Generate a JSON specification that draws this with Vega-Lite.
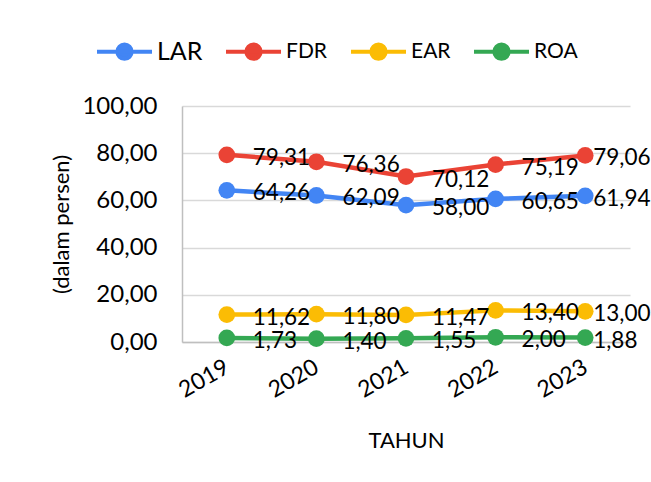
{
  "$schema": "https://vega.github.io/schema/vega-lite/v6.json",
  "width": 448,
  "height": 236,
  "autosize": "none",
  "padding": {"left": 182, "top": 106, "right": 21, "bottom": 140},
  "background": "white",
  "config": {
    "locale": {"number": {"decimal": ",", "thousands": ".", "grouping": [3], "currency": ["Rp", ""]}},
    "font": "Lato",
    "view": {"stroke": null}
  },
  "data": {
    "values": [
      {"year": "2019", "series": "LAR", "value": 64.26},
      {"year": "2020", "series": "LAR", "value": 62.09},
      {"year": "2021", "series": "LAR", "value": 58.00},
      {"year": "2022", "series": "LAR", "value": 60.65},
      {"year": "2023", "series": "LAR", "value": 61.94},
      {"year": "2019", "series": "FDR", "value": 79.31},
      {"year": "2020", "series": "FDR", "value": 76.36},
      {"year": "2021", "series": "FDR", "value": 70.12},
      {"year": "2022", "series": "FDR", "value": 75.19},
      {"year": "2023", "series": "FDR", "value": 79.06},
      {"year": "2019", "series": "EAR", "value": 11.62},
      {"year": "2020", "series": "EAR", "value": 11.80},
      {"year": "2021", "series": "EAR", "value": 11.47},
      {"year": "2022", "series": "EAR", "value": 13.40},
      {"year": "2023", "series": "EAR", "value": 13.00},
      {"year": "2019", "series": "ROA", "value": 1.73},
      {"year": "2020", "series": "ROA", "value": 1.40},
      {"year": "2021", "series": "ROA", "value": 1.55},
      {"year": "2022", "series": "ROA", "value": 2.00},
      {"year": "2023", "series": "ROA", "value": 1.88}
    ]
  },
  "encoding": {
    "x": {
      "field": "year",
      "type": "ordinal",
      "scale": {"type": "point", "padding": 0.5},
      "axis": {
        "title": "TAHUN",
        "labelAngle": -30,
        "labelAlign": "right",
        "labelBaseline": "middle",
        "labelFontSize": 23,
        "labelColor": "black",
        "labelPadding": 23,
        "ticks": false,
        "tickSize": 0,
        "domainColor": "#bfbfbf",
        "domainWidth": 1.5,
        "grid": false,
        "titleFontSize": 22,
        "titleFontWeight": "normal",
        "titleColor": "black",
        "titlePadding": 28
      }
    },
    "y": {
      "field": "value",
      "type": "quantitative",
      "scale": {"domain": [0, 100]},
      "axis": {
        "title": "(dalam persen)",
        "values": [0, 20, 40, 60, 80, 100],
        "format": ".2f",
        "labelFontSize": 24,
        "labelColor": "black",
        "labelPadding": 25,
        "ticks": false,
        "tickSize": 0,
        "domain": true,
        "domainColor": "#bfbfbf",
        "domainWidth": 1.5,
        "gridColor": "#d9d9d9",
        "gridWidth": 1.5,
        "titleFontSize": 22,
        "titleFontWeight": "normal",
        "titleColor": "black",
        "titlePadding": 8
      }
    },
    "color": {
      "field": "series",
      "type": "nominal",
      "scale": {
        "domain": ["LAR", "FDR", "EAR", "ROA"],
        "range": ["#4285F4", "#EA4335", "#FBBC04", "#34A853"]
      },
      "legend": {
        "title": null,
        "orient": "none",
        "direction": "horizontal",
        "legendX": -87,
        "legendY": -84,
        "padding": 0,
        "symbolType": "M-1,0L1,0M-0.26,0A0.26,0.26,0,1,1,0.26,0A0.26,0.26,0,1,1,-0.26,0Z",
        "symbolSize": 3025,
        "symbolStrokeWidth": 4,
        "symbolOpacity": 1,
        "labelFontSize": 21,
        "labelColor": "black",
        "labelOffset": 3,
        "columnPadding": 15,
        "encode": {
          "symbols": {"update": {"fill": {"scale": "color", "field": "value"}, "stroke": {"scale": "color", "field": "value"}}},
          "labels": {"update": {"fontSize": {"signal": "datum.value === 'LAR' ? 25 : 21"}}}
        }
      }
    }
  },
  "layer": [
    {"mark": {"type": "line", "strokeWidth": 4.5}},
    {"mark": {"type": "point", "filled": true, "size": 280, "opacity": 1}},
    {
      "transform": [{"filter": "datum.year != '2023'"}],
      "mark": {"type": "text", "align": "left", "baseline": "middle", "dx": 26, "dy": 3, "fontSize": 22.5},
      "encoding": {
        "text": {"field": "value", "type": "quantitative", "format": ".2f"},
        "color": {"value": "black"}
      }
    },
    {
      "transform": [{"filter": "datum.year == '2023'"}],
      "mark": {"type": "text", "align": "left", "baseline": "middle", "dx": 8, "dy": 3, "fontSize": 22.5},
      "encoding": {
        "text": {"field": "value", "type": "quantitative", "format": ".2f"},
        "color": {"value": "black"}
      }
    }
  ]
}
